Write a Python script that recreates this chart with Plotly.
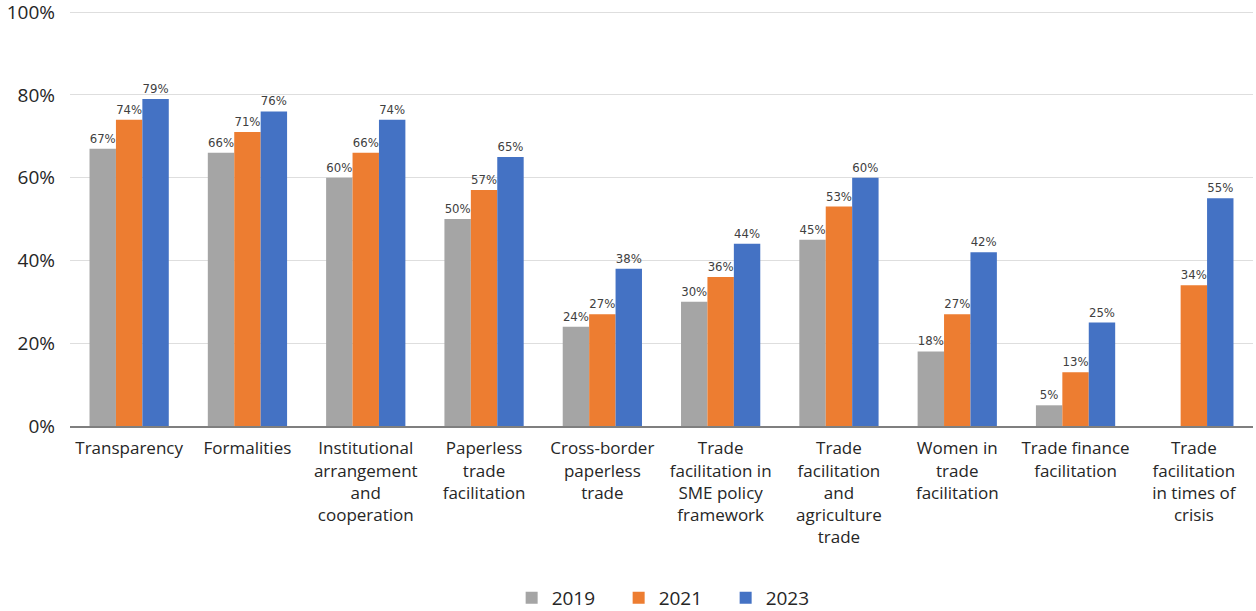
import plotly.graph_objects as go

categories = [
    "Transparency",
    "Formalities",
    "Institutional<br>arrangement<br>and<br>cooperation",
    "Paperless<br>trade<br>facilitation",
    "Cross-border<br>paperless<br>trade",
    "Trade<br>facilitation in<br>SME policy<br>framework",
    "Trade<br>facilitation<br>and<br>agriculture<br>trade",
    "Women in<br>trade<br>facilitation",
    "Trade finance<br>facilitation",
    "Trade<br>facilitation<br>in times of<br>crisis",
]

years = ["2019", "2021", "2023"]
values_2019 = [67, 66, 60, 50, 24, 30, 45, 18, 5, None]
values_2021 = [74, 71, 66, 57, 27, 36, 53, 27, 13, 34]
values_2023 = [79, 76, 74, 65, 38, 44, 60, 42, 25, 55]

colors = ["#A5A5A5", "#ED7D31", "#4472C4"]
series = [values_2019, values_2021, values_2023]

text_font = "Open Sans"
label_font = "DejaVu Sans Condensed, Open Sans"

fig = go.Figure()
for name, vals, col in zip(years, series, colors):
    fig.add_trace(go.Bar(
        name=name,
        x=categories,
        y=vals,
        marker=dict(color=col, line=dict(width=0)),
        text=[f"{v}%" if v is not None else "" for v in vals],
        textposition="outside",
        cliponaxis=False,
        textfont=dict(family=label_font, size=13, color="#404040"),
    ))

fig.update_layout(
    width=1256,
    height=611,
    margin=dict(l=70, r=3, t=10, b=185, autoexpand=False),
    paper_bgcolor="white",
    plot_bgcolor="white",
    barmode="group",
    bargap=0.33,
    bargroupgap=0,
    font=dict(family=text_font, color="#262626"),
    showlegend=True,
    legend=dict(
        orientation="h",
        x=0.509, xanchor="center",
        y=-0.413, yanchor="middle",
        font=dict(size=19, family=text_font, color="#262626"),
        entrywidth=62,
        entrywidthmode="pixels",
        traceorder="normal",
    ),
    xaxis=dict(
        tickfont=dict(size=17, family=text_font, color="#262626"),
        showgrid=False,
        showline=True,
        linecolor="#7f7f7f",
        linewidth=2,
        ticks="",
        tickangle=0,
        automargin=False,
        ticklabelstandoff=6,
    ),
    yaxis=dict(
        range=[0, 100.5],
        tickvals=[0, 20, 40, 60, 80, 100],
        ticktext=["0%", "20%", "40%", "60%", "80%", "100%"],
        tickfont=dict(size=19, family=text_font, color="#262626"),
        showgrid=True,
        gridcolor="#dedede",
        gridwidth=1,
        zeroline=False,
        ticks="",
        ticklabelstandoff=14,
        ticklabeloverflow="allow",
        automargin=False,
    ),
)

fig.write_html("out.html")
